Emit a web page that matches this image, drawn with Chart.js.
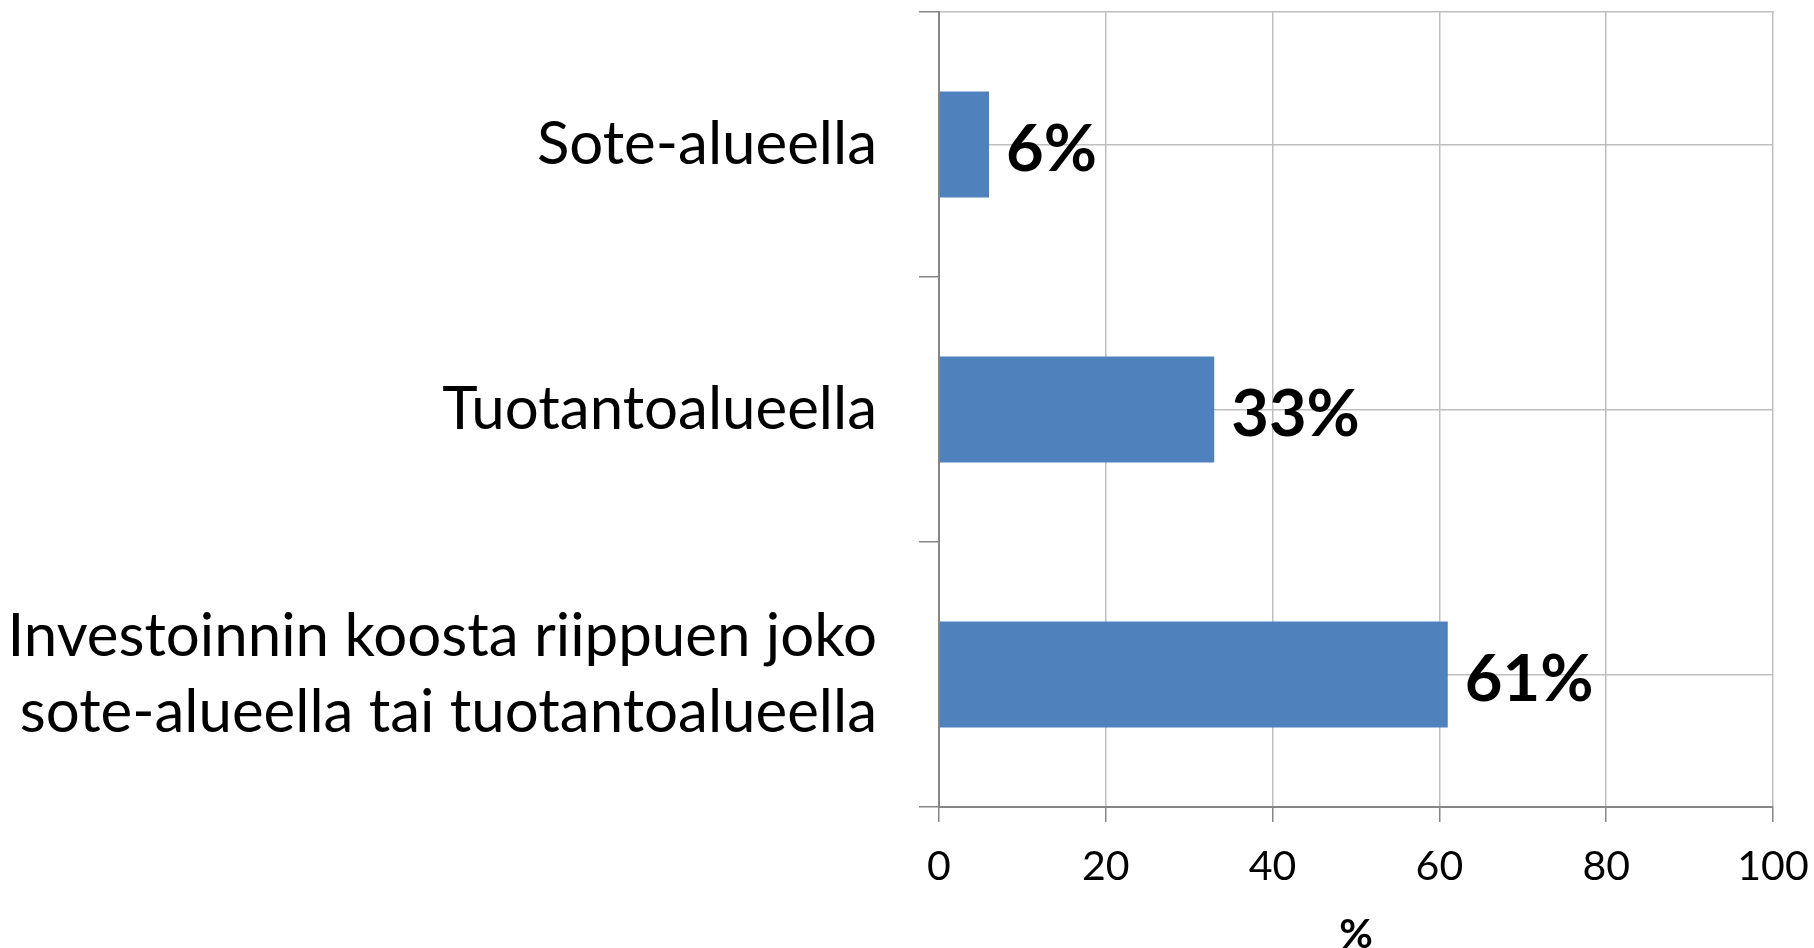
<!DOCTYPE html>
<html><head><meta charset="utf-8">
<script src="https://cdn.jsdelivr.net/npm/chart.js@4"></script>
<style>html,body{margin:0;padding:0;background:#fff;overflow:hidden}</style>
</head><body><canvas id="c" width="1814" height="948"></canvas>
<script>
const categories = ['Sote-alueella', 'Tuotantoalueella', ['Investoinnin koosta riippuen joko', 'sote-alueella tai tuotantoalueella']];
const values = [6, 33, 61];
const valueLabels = ['6%', '33%', '61%'];
const xTicks = [0, 20, 40, 60, 80, 100];
const axisTitle = '%';

const AXIS = '#868686', GRID = '#BFBFBF', BAR = '#4F81BD';
const PAD = {left: 0, right: 41, top: 12, bottom: 0};

const valueLabelPlugin = {
  id: 'valueLabels',
  afterDatasetsDraw(chart) {
    const ctx = chart.ctx;
    const meta = chart.getDatasetMeta(0);
    const size = 65;
    ctx.save();
    ctx.font = 'bold ' + size + 'px Lato';
    ctx.fillStyle = '#000';
    ctx.textAlign = 'left';
    ctx.textBaseline = 'alphabetic';
    meta.data.forEach((bar, i) => {
      ctx.fillText(valueLabels[i], bar.x + 17, bar.y + 0.36 * size + 3);
    });
    ctx.restore();
  }
};

const noPad = s => { s.paddingTop = 0; s.paddingBottom = 0; s.paddingLeft = 0; s.paddingRight = 0; };

new Chart(document.getElementById('c'), {
  type: 'bar',
  data: {
    labels: categories,
    datasets: [{
      data: values,
      backgroundColor: BAR,
      borderWidth: 0,
      categoryPercentage: 0.8,
      barPercentage: 0.5
    }]
  },
  options: {
    indexAxis: 'y',
    responsive: false,
    animation: false,
    layout: {padding: PAD},
    plugins: {legend: {display: false}, tooltip: {enabled: false}},
    scales: {
      x: {
        type: 'linear', position: 'bottom', min: 0, max: 100,
        afterBuildTicks: s => { s.ticks = xTicks.map(v => ({value: v})); },
        ticks: {font: {family: 'Lato', size: 41}, color: '#000', padding: 20, maxRotation: 0},
        grid: {color: GRID, lineWidth: 1.5, tickColor: AXIS, tickLength: 15},
        border: {color: AXIS, width: 2},
        title: {display: true, text: axisTitle, font: {family: 'Lato', size: 41, weight: 'bold', lineHeight: 1}, color: '#000', padding: {top: 0, bottom: -7}},
        afterFit: s => { s.height = 948 - PAD.bottom - 807; noPad(s); }
      },
      x2: {
        type: 'linear', position: 'top', min: 0, max: 100,
        ticks: {display: false},
        grid: {display: false, drawTicks: false},
        border: {display: true, color: GRID, width: 1.5},
        afterFit: noPad
      },
      y: {
        type: 'category', position: 'left', weight: 1, offset: true,
        grid: {offset: true, drawOnChartArea: false, tickLength: 20, color: AXIS, lineWidth: 1.5},
        border: {color: AXIS, width: 2},
        ticks: {font: {family: 'Lato', size: 60, lineHeight: 1.26}, color: '#000', padding: 42},
        afterFit: s => { s.width = 939 - PAD.left; noPad(s); }
      },
      y2: {
        type: 'category', position: 'left', weight: 0, offset: true,
        ticks: {display: false},
        grid: {offset: false, drawTicks: false, color: GRID, lineWidth: 1.5},
        border: {display: false},
        afterFit: noPad
      }
    }
  },
  plugins: [valueLabelPlugin]
});
</script>
</body></html>
